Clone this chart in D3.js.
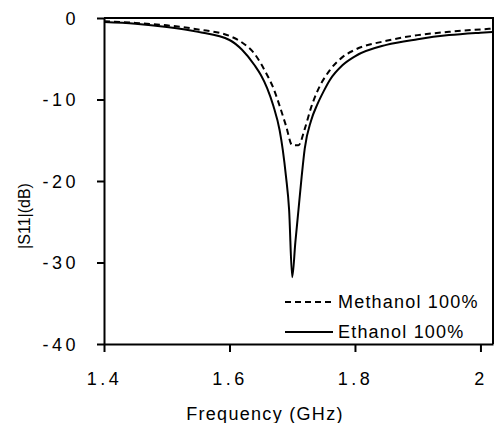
<!DOCTYPE html>
<html>
<head>
<meta charset="utf-8">
<script src="https://cdn.jsdelivr.net/npm/d3@7"></script>
<style>
  body { margin: 0; background: #fff; }
  text { font-family: "Liberation Sans", Arial, sans-serif; fill: #000; }
</style>
</head>
<body>
<div id="chart"></div>
<script>
let width = 495,
    height = 423;

// Methanol 100% (dashed)
const methanolFreq = [1.40, 1.45, 1.50, 1.55, 1.60, 1.62, 1.64, 1.66, 1.67, 1.68, 1.69, 1.70, 1.71,
                      1.72, 1.73, 1.74, 1.76, 1.78, 1.80, 1.85, 1.90, 1.95, 2.00, 2.02];
const methanolS11 = [-0.4, -0.6, -0.9, -1.4, -2.2, -3.0, -4.4, -7.0, -8.6, -10.8, -13.2, -15.6, -15.6,
                     -13.6, -11.0, -9.0, -6.4, -4.8, -3.9, -2.8, -2.1, -1.7, -1.4, -1.3];

// Ethanol 100% (solid)
const ethanolFreq = [1.40, 1.45, 1.50, 1.55, 1.60, 1.62, 1.64, 1.65, 1.66, 1.67, 1.68, 1.685, 1.69, 1.695,
                     1.70, 1.705, 1.71, 1.715, 1.72, 1.73, 1.74, 1.75, 1.76, 1.78, 1.80, 1.85, 1.90,
                     1.95, 2.00, 2.02];
const ethanolS11 = [-0.5, -0.7, -1.1, -1.7, -2.7, -3.9, -5.8, -7.0, -8.6, -10.8, -13.8, -16.2, -19.4, -23.5,
                    -31.8, -27.5, -23.5, -19.5, -16.0, -12.6, -10.6, -9.0, -7.6, -5.8, -4.7, -3.3, -2.6,
                    -2.1, -1.8, -1.7];

const xTicks = [1.4, 1.6, 1.8, 2];
const yTicks = [0, -10, -20, -30, -40];
const seriesNames = ["Methanol 100%", "Ethanol 100%"];

const margin = { left: 104, top: 18, right: 2, bottom: 79 };
const plotW = width - margin.left - margin.right,
      plotH = height - margin.top - margin.bottom;

let svg = d3.select("#chart")
    .append("svg")
    .attr("width", width)
    .attr("height", height);

let xScale = d3.scaleLinear().domain([1.4, 2.02]).range([0, plotW]);
let yScale = d3.scaleLinear().domain([-40, 0]).range([plotH, 0]);

let g = svg.append("g").attr("transform", `translate(${margin.left},${margin.top})`);

// frame (top and right)
g.append("path")
    .attr("d", `M0,0H${plotW}V${plotH}`)
    .attr("fill", "none")
    .attr("stroke", "#000")
    .attr("stroke-width", 2);

let xAxis = g.append("g")
    .attr("transform", `translate(0,${plotH})`)
    .call(d3.axisBottom(xScale).tickValues(xTicks).tickSize(8).tickSizeOuter(0).tickPadding(20).tickFormat(d => String(d)));
let yAxis = g.append("g")
    .call(d3.axisLeft(yScale).tickValues(yTicks).tickSize(7).tickSizeOuter(0).tickPadding(18).tickFormat(d => String(d)));

[xAxis, yAxis].forEach(ax => {
    ax.select(".domain").attr("stroke-width", 2);
    ax.selectAll(".tick line").attr("stroke-width", 2);
    ax.selectAll("text")
        .style("font-size", "18px")
        .style("letter-spacing", "3.5px")
        .attr("fill", "#000");
});
yAxis.selectAll("text").attr("dy", "0.36em");

let line = d3.line()
    .x(d => xScale(d[0]))
    .y(d => yScale(d[1]))
    .curve(d3.curveMonotoneX);

g.append("path")
    .datum(methanolFreq.map((f, i) => [f, methanolS11[i]]))
    .attr("d", line)
    .attr("fill", "none")
    .attr("stroke", "#000")
    .attr("stroke-width", 2)
    .attr("stroke-dasharray", "6,4");

g.append("path")
    .datum(ethanolFreq.map((f, i) => [f, ethanolS11[i]]))
    .attr("d", line)
    .attr("fill", "none")
    .attr("stroke", "#000")
    .attr("stroke-width", 2);

// legend
let legend = svg.append("g").attr("transform", "translate(285,302)");
seriesNames.forEach((name, i) => {
    let row = legend.append("g").attr("transform", `translate(0,${i * 30})`);
    row.append("line")
        .attr("x1", 0).attr("x2", 48)
        .attr("stroke", "#000")
        .attr("stroke-width", 2)
        .attr("stroke-dasharray", i === 0 ? "6,4" : null);
    row.append("text")
        .attr("x", 53)
        .attr("y", 6)
        .style("font-size", "18px")
        .style("letter-spacing", "1.2px")
        .text(name);
});

svg.append("text")
    .attr("x", 265)
    .attr("y", 420)
    .attr("text-anchor", "middle")
    .style("font-size", "18px")
    .style("letter-spacing", "1.3px")
    .text("Frequency (GHz)");

svg.append("text")
    .attr("transform", "translate(30,216) rotate(-90)")
    .attr("text-anchor", "middle")
    .style("font-size", "16px")
    .text("|S11|(dB)");
</script>
</body>
</html>
